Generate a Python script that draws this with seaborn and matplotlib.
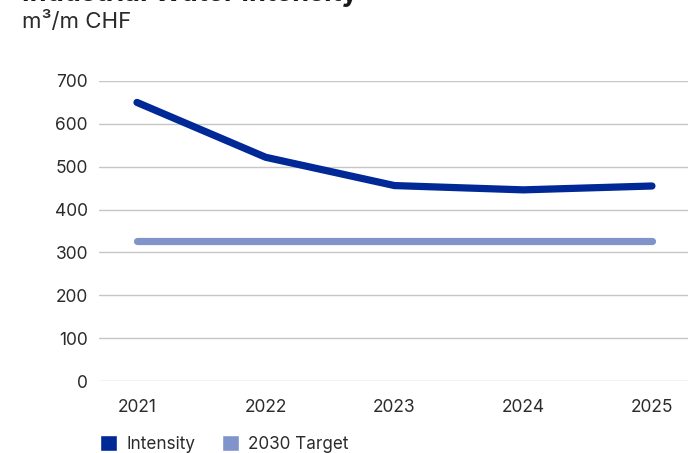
import matplotlib
matplotlib.use("Agg")
import matplotlib.pyplot as plt
import seaborn as sns
import pandas as pd
from matplotlib.patches import Patch

years = [2021, 2022, 2023, 2024, 2025]
intensity = [650, 522, 456, 446, 455]
target_2030 = [326, 326, 326, 326, 326]
y_ticks = [0, 100, 200, 300, 400, 500, 600, 700]

sns.set_theme(style="white")
plt.rcParams["font.family"] = ["Inter", "DejaVu Sans"]

df = pd.DataFrame({"Year": years + years,
                   "Value": intensity + target_2030,
                   "Series": ["Intensity"] * len(years) + ["2030 Target"] * len(years)})

palette = {"Intensity": "#002896", "2030 Target": "#8193cb"}

fig = plt.figure(figsize=(6.88, 4.53), dpi=100)
ax = fig.add_axes([99 / 688, 72 / 453, 589 / 688, 300 / 453])

sns.lineplot(data=df, x="Year", y="Value", hue="Series", palette=palette,
             ax=ax, legend=False, linewidth=5.2, solid_capstyle="round",
             solid_joinstyle="round")

ax.set_xlim(2020.705, 2025.28)
ax.set_ylim(0, 700)
ax.set_yticks(y_ticks)
ax.set_xticks(years)
ax.set_xticklabels([str(y) for y in years])
ax.yaxis.grid(True, color="#c6c6c6", linewidth=1)
ax.set_axisbelow(True)
for s in ax.spines.values():
    s.set_visible(False)
ax.tick_params(axis="y", length=0, pad=8, labelsize=12.5, labelcolor="#2b2b2b")
ax.tick_params(axis="x", length=0, pad=13, labelsize=12.5, labelcolor="#2b2b2b")
ax.set_xlabel("")
ax.set_ylabel("")

fig.text(22 / 688, 1.0 + 6 / 453, "Industrial Water Intensity", fontsize=19.5,
         fontweight="bold", color="#1a1a1a", va="center", ha="left")
fig.text(22 / 688, 1 - 22 / 453, "m³/m CHF", fontsize=16, color="#2b2b2b",
         va="center", ha="left")

handles = [Patch(facecolor=palette["Intensity"], label="Intensity"),
           Patch(facecolor=palette["2030 Target"], label="2030 Target")]
fig.legend(handles=handles, loc="center left", bbox_to_anchor=(85 / 688, 1 - 444 / 453),
           ncol=2, frameon=False, fontsize=12.3, handlelength=1.0, handleheight=1.0,
           handletextpad=0.5, columnspacing=1.6, labelcolor="#2b2b2b")

fig.savefig("out.png", dpi=100)
